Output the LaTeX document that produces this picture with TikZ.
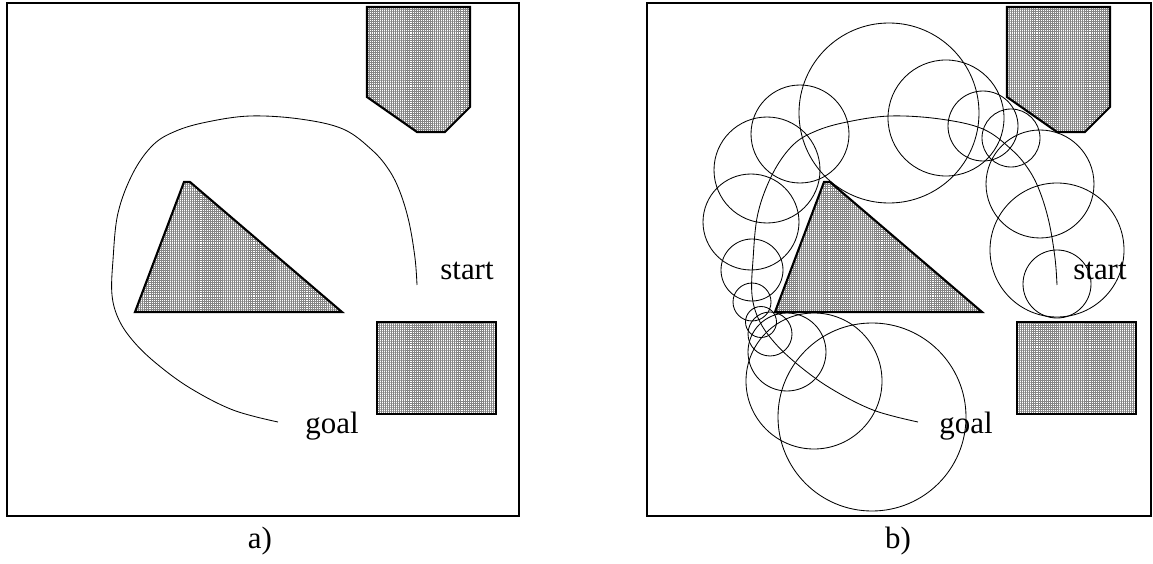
\documentclass[tikz,border=0pt]{standalone}
\usepackage{fontspec}
\setmainfont{Liberation Serif}
\usetikzlibrary{patterns.meta}
\tikzset{
  frame/.style={line width=1.8pt},
  obstacle/.style={line width=1.5pt,preaction={fill=white},
    pattern={Hatch[distance=1.45pt,line width=.5pt]},pattern color=black!48},
  track/.style={line width=.6pt},
  bubble/.style={line width=.6pt},
  lbl/.style={font=\fontsize{22}{26}\selectfont,anchor=base,inner sep=0pt}
}
% the three obstacles, in panel coordinates
\newcommand{\obstacles}{%
  \draw[obstacle] (367,7) -- (470,7) -- (470,107) -- (445,132) -- (417,132) -- (367,97) -- cycle;
  \draw[obstacle] (184,182) -- (190,182) -- (342,312) -- (135,312) -- cycle;
  \draw[obstacle] (377,322) rectangle (496,414);}
% path from start to goal
\newcommand{\trackline}{%
  \draw[track] plot[smooth,tension=.6] coordinates {(417,285) (415,258) (409,222) (400,192)
    (389,170) (372,150) (343,129) (300,119) (250,116) (207,122) (176,131) (153,145)
    (133,173) (118,213) (113,260) (112,295) (119,320) (134,342) (157,364) (190,388)
    (233,410) (278,422)};}

\begin{document}
\begin{tikzpicture}[x=0.025cm,y=-0.025cm]
\useasboundingbox (0,0) rectangle (1153,564);
% a)
\draw[frame] (7,3) rectangle (519,516);
\obstacles
\trackline
\node[lbl] (starta) at (467,280) {start};
\node[lbl] (goala) at (332,433) {goal};
\node[lbl] (capa) at (260,548) {a)};
% b)
\draw[frame] (647,3) rectangle (1151,516);
\begin{scope}[shift={(640,0)}]
\obstacles
\trackline
\foreach \cx/\cy/\r in {249/113/90, 160/134/49, 127/170/53, 111/222/48, 112/270/31,
    112/302/19, 121/322/15.5, 130/334/22, 147/352/39, 174/381/68, 232/417/94,
    306/118/58, 343/126/35, 371/138/29, 400/184/54, 417/250/67, 417/284/34}
  \draw[bubble] (\cx,\cy) circle[radius=\r];
\node[lbl] (startb) at (460,280) {start};
\node[lbl] (goalb) at (326,433) {goal};
\end{scope}
\node[lbl] (capb) at (898,548) {b)};
\end{tikzpicture}
\end{document}
